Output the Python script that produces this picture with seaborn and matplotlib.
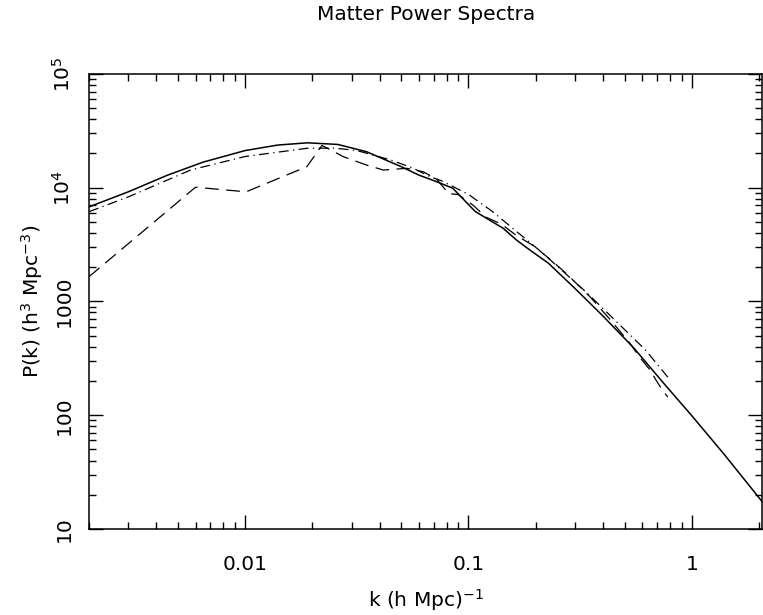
import matplotlib
matplotlib.use("Agg")
import matplotlib.pyplot as plt
import numpy as np
import pandas as pd
import seaborn as sns
from matplotlib.ticker import FixedLocator, FixedFormatter, LogLocator, NullFormatter

sns.set_theme(style="ticks")
plt.rcParams["font.family"] = ["DejaVu Sans"]
plt.rcParams["mathtext.default"] = "regular"

# linear theory (solid)
k_theory = [0.002, 0.003, 0.0045, 0.0065, 0.01, 0.014, 0.019, 0.026, 0.035, 0.05,
            0.06, 0.072, 0.085, 0.095, 0.107, 0.124, 0.143, 0.164, 0.188, 0.228,
            0.3, 0.4, 0.55, 0.75, 1.0, 1.4, 2.06]
p_theory = [6780, 9200, 12900, 16800, 21200, 23700, 24800, 24000, 20700, 15300,
            12900, 11300, 9900, 7900, 6200, 5200, 4400, 3470, 2840, 2170,
            1300, 745, 390, 190, 99, 45, 17.5]

# measured spectrum (dashed)
k_data = [0.002, 0.006, 0.0101, 0.0189, 0.0221, 0.0276, 0.035, 0.0416, 0.0529, 0.0628,
          0.072, 0.0814, 0.09, 0.105, 0.12, 0.14, 0.164, 0.195, 0.235, 0.275,
          0.35, 0.429, 0.528, 0.58, 0.65, 0.69, 0.74, 0.78]
p_data = [1650, 10100, 9200, 15300, 23500, 18700, 15800, 14300, 14800, 13800,
          11900, 8900, 8700, 7000, 5500, 4800, 3800, 3100, 2300, 1750,
          1100, 700, 430, 330, 250, 205, 165, 145]

# nonlinear model (dash-dot)
k_model = [0.002, 0.003, 0.0057, 0.01, 0.0189, 0.025, 0.0317, 0.045, 0.0567, 0.0672,
           0.0758, 0.1, 0.128, 0.215, 0.339, 0.62, 0.8]
p_model = [6150, 8300, 14300, 18800, 22200, 22300, 21200, 17500, 14800, 12500,
           11500, 8730, 6180, 2660, 1192, 375, 204]

x_ticks = [0.01, 0.1, 1]
x_tick_labels = ["0.01", "0.1", "1"]
y_ticks = [10, 100, 1000, 1e4, 1e5]
y_tick_labels = ["10", "100", "1000", "$10^4$", "$10^5$"]

theory_df = pd.DataFrame({"k": k_theory, "P": p_theory})
data_df = pd.DataFrame({"k": k_data, "P": p_data})
model_df = pd.DataFrame({"k": k_model, "P": p_model})

fig = plt.figure(figsize=(7.63, 6.15), dpi=100)
ax = fig.add_axes([0.1166, 0.1398, 0.882, 0.740])

sns.lineplot(data=theory_df, x="k", y="P", ax=ax, color="black", linewidth=1.1,
             sort=False, estimator=None)
sns.lineplot(data=data_df, x="k", y="P", ax=ax, color="black", linewidth=0.9,
             linestyle=(0, (11, 6)), sort=False, estimator=None)
sns.lineplot(data=model_df, x="k", y="P", ax=ax, color="black", linewidth=0.9,
             linestyle=(0, (8, 3.5, 1, 3.5)), sort=False, estimator=None)

ax.set_xscale("log")
ax.set_yscale("log")
ax.set_xlim(0.002, 2.06)
ax.set_ylim(10, 1e5)

ax.xaxis.set_major_locator(FixedLocator(x_ticks))
ax.xaxis.set_major_formatter(FixedFormatter(x_tick_labels))
ax.xaxis.set_minor_locator(LogLocator(base=10, subs=np.arange(2, 10), numticks=20))
ax.xaxis.set_minor_formatter(NullFormatter())
ax.yaxis.set_major_locator(FixedLocator(y_ticks))
ax.yaxis.set_major_formatter(FixedFormatter(y_tick_labels))
ax.yaxis.set_minor_locator(LogLocator(base=10, subs=np.arange(2, 10), numticks=20))
ax.yaxis.set_minor_formatter(NullFormatter())

ax.tick_params(which="both", direction="in", top=True, right=True, color="black",
               width=1.0, labelsize=14.5, labelcolor="black")
ax.tick_params(which="major", length=10)
ax.tick_params(which="minor", length=5)
ax.tick_params(axis="x", pad=19)
ax.tick_params(axis="y", pad=11, labelrotation=90)
for lab in ax.get_yticklabels():
    lab.set_va("center")

for spine in ax.spines.values():
    spine.set_color("black")
    spine.set_linewidth(1.1)

ax.set_xlabel("k (h Mpc)$^{-1}$", fontsize=14.5, color="black", va="center")
ax.set_ylabel("P(k) (h$^3$ Mpc$^{-3}$)", fontsize=14.5, color="black", va="center")
ax.xaxis.set_label_coords(0.5, -0.156)
ax.yaxis.set_label_coords(-0.085, 0.5)

fig.text(0.558, 1 - 15 / 615, "Matter Power Spectra", ha="center", va="center",
         fontsize=14.5, color="black")

fig.savefig("out.png", dpi=100, facecolor="white")
